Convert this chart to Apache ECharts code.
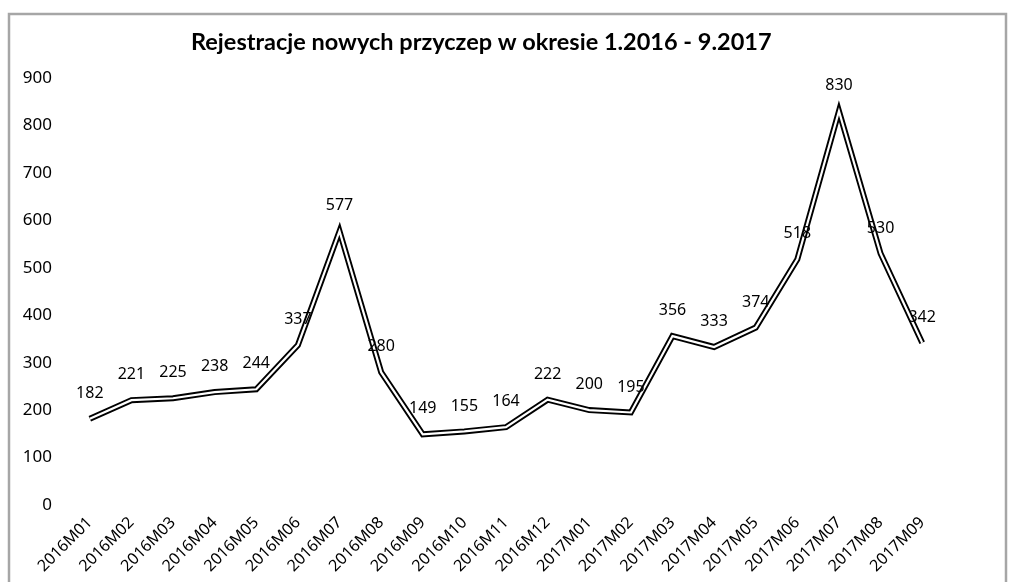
<!DOCTYPE html>
<html>
<head>
<meta charset="utf-8">
<script src="https://cdn.jsdelivr.net/npm/echarts@6/dist/echarts.min.js"></script>
<style>
html,body{margin:0;padding:0;background:#fff;}
#c{width:1011px;height:582px;}
</style>
</head>
<body>
<div id="c"></div>
<script>
const titleText = 'Rejestracje nowych przyczep w okresie 1.2016 - 9.2017';
const categories = ['2016M01','2016M02','2016M03','2016M04','2016M05','2016M06','2016M07','2016M08','2016M09','2016M10','2016M11','2016M12','2017M01','2017M02','2017M03','2017M04','2017M05','2017M06','2017M07','2017M08','2017M09'];
const registrations = [182,221,225,238,244,337,577,280,149,155,164,222,200,195,356,333,374,518,830,530,342];
const yTicks = [0,100,200,300,400,500,600,700,800,900];

const chart = echarts.init(document.getElementById('c'), null, {renderer:'canvas'});
chart.setOption({
  animation:false,
  backgroundColor:'#fff',
  title:{
    text:titleText,
    left:186, top:25,
    textStyle:{fontFamily:'Lato', fontWeight:'bold', fontSize:23.5, color:'#000'}
  },
  graphic:[{
    type:'rect',
    shape:{x:9, y:14, width:997, height:600},
    style:{fill:null, stroke:'#a6a6a6', lineWidth:2.5},
    silent:true, z:-1
  }],
  grid:{left:69, right:68, top:78, bottom:77},
  xAxis:{
    type:'category',
    data:categories,
    boundaryGap:true,
    axisLine:{show:false},
    axisTick:{show:false},
    axisLabel:{rotate:45, margin:15, fontFamily:'Noto Sans', fontSize:16, color:'#000', interval:0}
  },
  yAxis:{
    type:'value',
    min:yTicks[0], max:yTicks[yTicks.length-1], interval:100,
    axisLine:{show:false},
    axisTick:{show:false},
    splitLine:{show:false},
    axisLabel:{margin:17, fontFamily:'Noto Sans', fontSize:17, color:'#000'}
  },
  series:[
    {
      type:'line', data:registrations, symbol:'none',
      lineStyle:{color:'#000', width:6, join:'miter'},
      silent:true, z:2
    },
    {
      type:'line', data:registrations, symbol:'circle', symbolSize:1, showSymbol:true,
      itemStyle:{color:'rgba(0,0,0,0)', borderWidth:0},
      lineStyle:{color:'#fff', width:2.2, join:'miter'},
      label:{show:true, position:'top', distance:17, fontFamily:'Noto Sans', fontSize:16, color:'#000'},
      labelLayout:{hideOverlap:false},
      silent:true, z:3
    }
  ]
});
</script>
</body>
</html>
